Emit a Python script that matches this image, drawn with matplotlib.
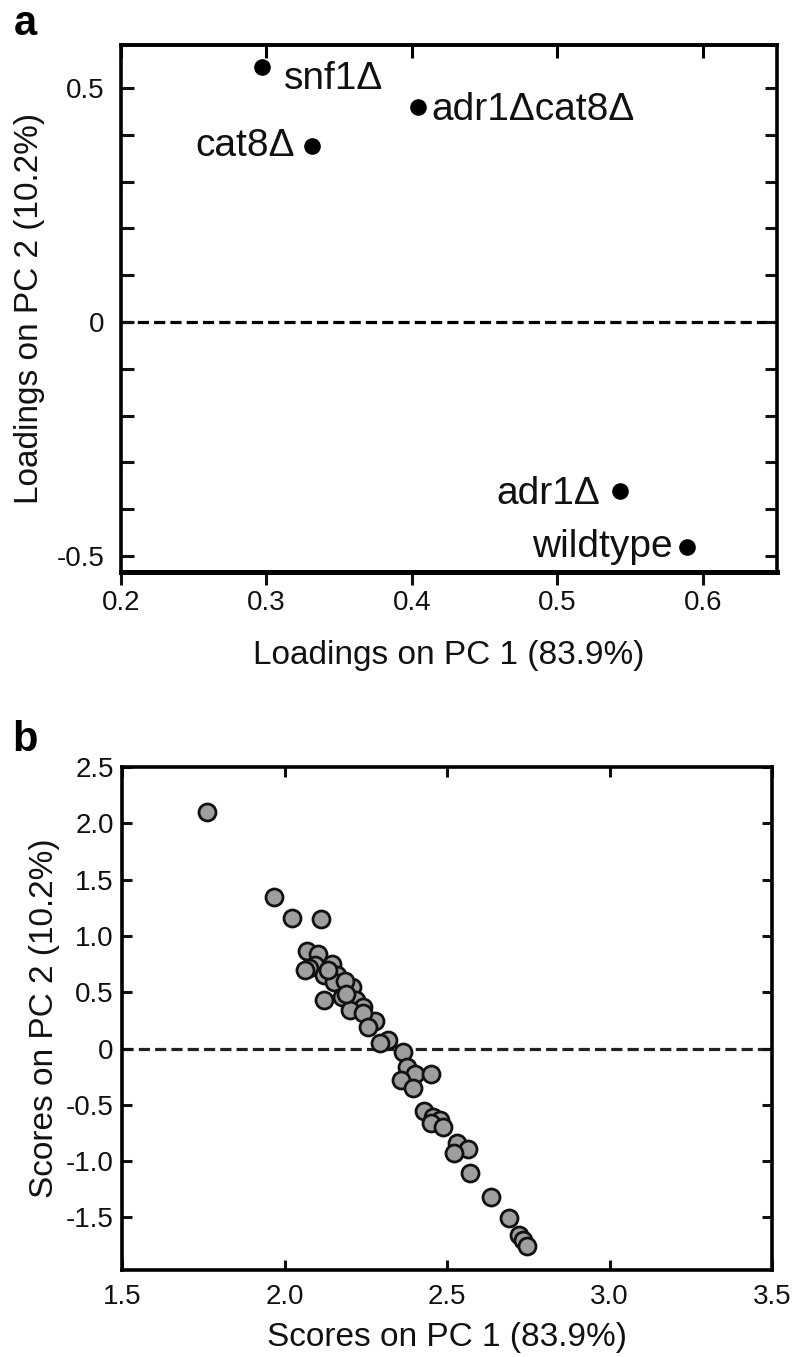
import matplotlib
matplotlib.use("Agg")
import matplotlib.pyplot as plt
from matplotlib.ticker import FixedLocator, FixedFormatter

plt.rcParams['font.family'] = ['Liberation Sans', 'DejaVu Sans']

# ---- Panel a data: loadings ----
strains = ["snf1Δ", "adr1Δcat8Δ", "cat8Δ", "adr1Δ", "wildtype"]
load_pc1 = [0.297, 0.404, 0.331, 0.543, 0.589]
load_pc2 = [0.545, 0.459, 0.376, -0.36, -0.48]
label_side = ["right", "right", "left", "left", "left"]

a_xticks = [0.2, 0.3, 0.4, 0.5, 0.6]
a_xticklabels = ["0.2", "0.3", "0.4", "0.5", "0.6"]
a_yticks = [-0.5, -0.4, -0.3, -0.2, -0.1, 0.0, 0.1, 0.2, 0.3, 0.4, 0.5]
a_yticklabels = ["-0.5", "", "", "", "", "0", "", "", "", "", "0.5"]

# ---- Panel b data: scores ----
score_pc1 = [1.762, 1.969, 2.024, 2.111, 2.068, 2.104, 2.094, 2.076, 2.062,
             2.145, 2.120, 2.160, 2.153, 2.209, 2.176, 2.122, 2.220, 2.243,
             2.200, 2.278, 2.243, 2.258, 2.319, 2.294, 2.364, 2.376, 2.402,
             2.451, 2.358, 2.396, 2.429, 2.456, 2.478, 2.452, 2.487, 2.530,
             2.566, 2.522, 2.571, 2.634, 2.692, 2.720, 2.733, 2.745,
             2.185, 2.135, 2.190]
score_pc2 = [2.10, 1.343, 1.162, 1.147, 0.869, 0.840, 0.742, 0.712, 0.700,
             0.748, 0.653, 0.653, 0.594, 0.544, 0.460, 0.431, 0.430, 0.371,
             0.342, 0.247, 0.312, 0.193, 0.075, 0.046, -0.030, -0.163, -0.222,
             -0.222, -0.280, -0.354, -0.552, -0.606, -0.635, -0.665, -0.694, -0.836,
             -0.895, -0.931, -1.108, -1.321, -1.508, -1.656, -1.700, -1.750,
             0.600, 0.700, 0.480]

b_xticks = [1.5, 2.0, 2.5, 3.0, 3.5]
b_xticklabels = ["1.5", "2.0", "2.5", "3.0", "3.5"]
b_yticks = [-1.5, -1.0, -0.5, 0.0, 0.5, 1.0, 1.5, 2.0, 2.5]
b_yticklabels = ["-1.5", "-1.0", "-0.5", "0", "0.5", "1.0", "1.5", "2.0", "2.5"]

W, H = 793, 1357
fig = plt.figure(figsize=(W / 100, H / 100), dpi=100)

TICK_FS = 20
LABEL_FS = 24
ANN_FS = 28
TXT = '#111111'

# ---------------- Panel a ----------------
axa = fig.add_axes([121 / W, 1 - 572 / H, (777 - 121) / W, (572 - 45) / H])
axa.set_xlim(0.2, 0.651)
axa.set_ylim(-0.534, 0.592)
axa.axhline(0, color='black', lw=2.3, linestyle=(0, (3.5, 1.6)), zorder=1)
axa.scatter(load_pc1, load_pc2, s=120, color='black', marker='o', zorder=3)
offsets = {"snf1Δ": (22, -12), "adr1Δcat8Δ": (14, -3),
           "cat8Δ": (-17, 0), "adr1Δ": (-20, -3), "wildtype": (-14, 0)}
for name, x, y, side in zip(strains, load_pc1, load_pc2, label_side):
    ha = 'left' if side == "right" else 'right'
    axa.annotate(name, (x, y), xytext=offsets[name], textcoords='offset pixels',
                 ha=ha, va='center', fontsize=ANN_FS, color=TXT)

for s in ['left', 'right', 'top']:
    axa.spines[s].set_linewidth(2.6)
axa.spines['bottom'].set_linewidth(3.6)
axa.xaxis.set_major_locator(FixedLocator(a_xticks))
axa.xaxis.set_major_formatter(FixedFormatter(a_xticklabels))
axa.yaxis.set_major_locator(FixedLocator(a_yticks))
axa.yaxis.set_major_formatter(FixedFormatter(a_yticklabels))
axa.tick_params(axis='x', direction='out', length=9, width=2.2, labelsize=TICK_FS,
                pad=4, colors=TXT)
axa.tick_params(axis='y', direction='in', length=9, width=2.2, labelsize=TICK_FS,
                left=True, right=True, pad=12, colors=TXT)
secx = axa.secondary_xaxis('top')
secx.xaxis.set_major_locator(FixedLocator(a_xticks))
secx.tick_params(axis='x', direction='in', length=9, width=2.2, labeltop=False)
secx.spines['top'].set_linewidth(2.6)
axa.set_xlabel("Loadings on PC 1 (83.9%)", fontsize=LABEL_FS, labelpad=17, color=TXT)
axa.set_ylabel("Loadings on PC 2 (10.2%)", fontsize=LABEL_FS, labelpad=8, color=TXT)
fig.text(25 / W, 1 - 24 / H, "a", fontsize=30, fontweight='bold', ha='center', va='center')

# ---------------- Panel b ----------------
axb = fig.add_axes([122 / W, 1 - 1270 / H, (772 - 122) / W, (1270 - 767) / H])
axb.set_xlim(1.5, 3.5)
axb.set_ylim(-1.967, 2.5)
axb.axhline(0, color='#222222', lw=2.3, linestyle=(0, (3.5, 1.6)), zorder=1)
axb.scatter(score_pc1, score_pc2, s=150, facecolor='#9e9e9e', edgecolor='#111111',
            linewidths=2.0, zorder=3)
for s in ['left', 'right', 'top', 'bottom']:
    axb.spines[s].set_linewidth(2.6)
axb.xaxis.set_major_locator(FixedLocator(b_xticks))
axb.xaxis.set_major_formatter(FixedFormatter(b_xticklabels))
axb.yaxis.set_major_locator(FixedLocator(b_yticks))
axb.yaxis.set_major_formatter(FixedFormatter(b_yticklabels))
axb.tick_params(axis='both', direction='in', length=7, width=2.2, labelsize=TICK_FS,
                top=True, right=True, colors=TXT)
axb.tick_params(axis='x', pad=10)
axb.tick_params(axis='y', pad=6)
axb.set_xlabel("Scores on PC 1 (83.9%)", fontsize=LABEL_FS, labelpad=9, color=TXT)
axb.set_ylabel("Scores on PC 2 (10.2%)", fontsize=LABEL_FS, labelpad=4, color=TXT)
fig.text(25 / W, 1 - 740 / H, "b", fontsize=30, fontweight='bold', ha='center', va='center')

fig.savefig("out.png", dpi=100)
